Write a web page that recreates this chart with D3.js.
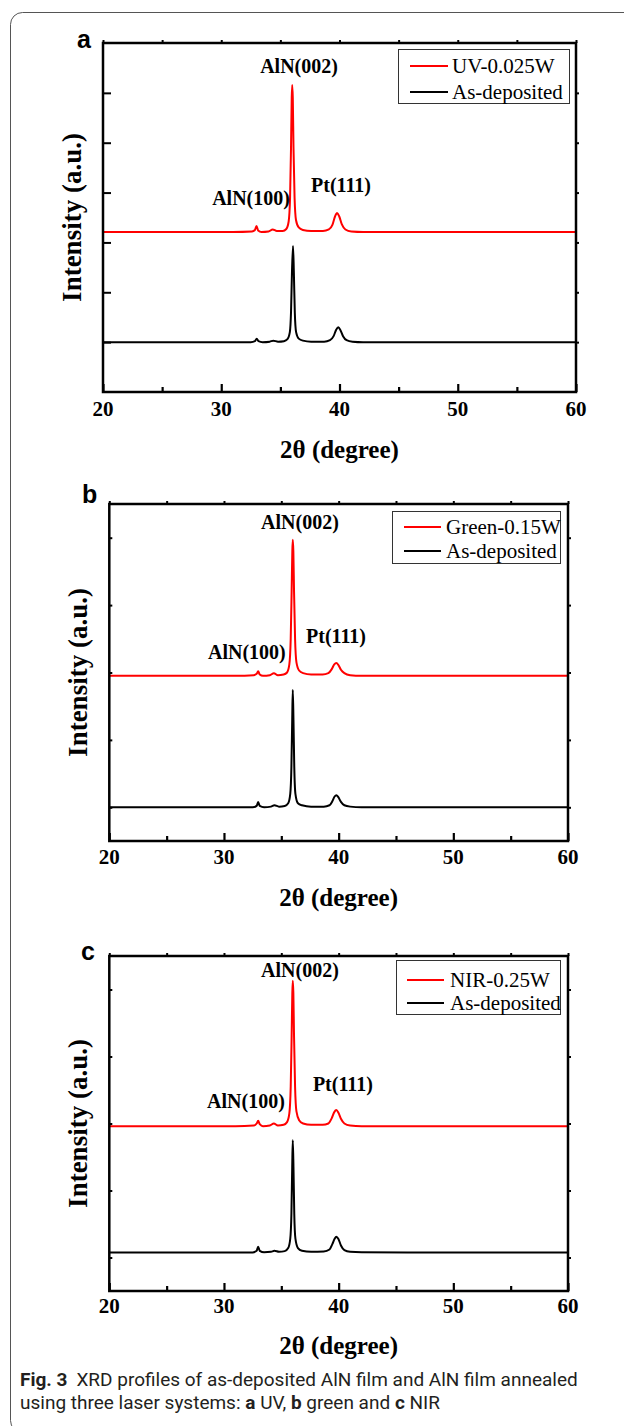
<!DOCTYPE html>
<html><head><meta charset="utf-8">
<script src="https://cdn.jsdelivr.net/npm/d3@7"></script>
<style>body{margin:0;background:#fff}svg{display:block}</style>
</head><body>
<script>
// ---------- data ----------
const xTickValues = [20, 30, 40, 50, 60];
const xMinorValues = [25, 35, 45, 55];
const yTicksA = [1, 2, 3, 4, 5, 6];
const yTicksBC = [0.5, 1.5, 2.5, 3.5, 4.5];
const legendRed = ["UV-0.025W", "Green-0.15W", "NIR-0.25W"];
const legendBlack = "As-deposited";
const peakLabels = ["AlN(002)", "AlN(100)", "Pt(111)"];
const xTitle = "2\u03B8 (degree)";
const yTitle = "Intensity (a.u.)";

// panel a: UV 0.025 W vs as-deposited  [2theta, intensity]
const uvRed = [[20,3.21],[24,3.21],[28,3.21],[31,3.21],[32.6,3.22],[32.85,3.25],[32.98,3.33],[33.12,3.24],[33.4,3.21],[34.0,3.22],[34.35,3.26],[34.7,3.23],[35.2,3.23],[35.5,3.27],[35.7,3.42],[35.82,3.9],[35.9,4.9],[35.96,5.9],[36.0,6.16],[36.05,5.9],[36.11,4.9],[36.2,3.9],[36.32,3.45],[36.55,3.3],[36.9,3.25],[37.6,3.23],[38.6,3.23],[39.1,3.26],[39.4,3.35],[39.62,3.52],[39.8,3.59],[39.98,3.52],[40.2,3.36],[40.5,3.26],[41.0,3.22],[42,3.21],[46,3.21],[50,3.21],[55,3.21],[60,3.21]];
const uvBlack = [[20,1.0],[25,1.0],[30,1.0],[32.5,1.0],[32.85,1.02],[33.0,1.07],[33.15,1.02],[33.5,1.0],[34.1,1.01],[34.4,1.03],[34.8,1.01],[35.3,1.02],[35.6,1.06],[35.8,1.2],[35.9,1.6],[35.98,2.4],[36.07,2.93],[36.14,2.4],[36.22,1.6],[36.33,1.2],[36.55,1.07],[36.9,1.03],[37.6,1.01],[38.7,1.01],[39.2,1.04],[39.5,1.12],[39.72,1.25],[39.9,1.30],[40.08,1.24],[40.3,1.12],[40.6,1.04],[41.1,1.01],[42,1.0],[46,1.0],[50,1.0],[55,1.0],[60,1.0]];

// panel b: Green 0.15 W vs as-deposited
const greenRed = [[20,2.45],[24,2.45],[28,2.45],[31,2.45],[32.6,2.46],[32.85,2.48],[32.98,2.52],[33.12,2.47],[33.4,2.45],[34.0,2.46],[34.35,2.49],[34.7,2.46],[35.2,2.47],[35.5,2.5],[35.7,2.62],[35.82,3.0],[35.9,3.7],[35.96,4.3],[36.0,4.47],[36.05,4.3],[36.11,3.7],[36.2,3.0],[36.32,2.65],[36.55,2.53],[36.9,2.49],[37.6,2.47],[38.6,2.47],[39.1,2.49],[39.4,2.55],[39.62,2.62],[39.8,2.64],[39.98,2.61],[40.2,2.54],[40.5,2.49],[41.0,2.46],[42,2.45],[46,2.45],[50,2.45],[55,2.45],[60,2.45]];
const greenBlack = [[20,0.5],[25,0.5],[30,0.5],[32.5,0.5],[32.85,0.52],[32.98,0.58],[33.12,0.52],[33.5,0.5],[34.1,0.51],[34.4,0.53],[34.8,0.51],[35.3,0.52],[35.6,0.56],[35.78,0.7],[35.88,1.1],[35.95,1.8],[36.0,2.24],[36.06,1.8],[36.13,1.1],[36.23,0.7],[36.45,0.56],[36.8,0.53],[37.6,0.51],[38.7,0.51],[39.2,0.53],[39.45,0.59],[39.65,0.66],[39.8,0.68],[39.97,0.65],[40.2,0.58],[40.5,0.53],[41,0.51],[42,0.5],[46,0.5],[50,0.5],[55,0.5],[60,0.5]];

// panel c: NIR 0.25 W vs as-deposited
const nirRed = [[20,2.46],[24,2.46],[28,2.46],[31,2.46],[32.6,2.47],[32.85,2.5],[32.98,2.54],[33.12,2.49],[33.4,2.46],[34.0,2.47],[34.35,2.5],[34.7,2.47],[35.2,2.48],[35.5,2.52],[35.7,2.65],[35.82,3.05],[35.9,3.8],[35.96,4.45],[36.0,4.63],[36.05,4.45],[36.11,3.8],[36.2,3.05],[36.32,2.68],[36.55,2.55],[36.9,2.5],[37.6,2.48],[38.6,2.48],[39.1,2.5],[39.4,2.58],[39.62,2.67],[39.8,2.70],[39.98,2.66],[40.2,2.57],[40.5,2.5],[41.0,2.47],[42,2.46],[46,2.46],[50,2.46],[55,2.46],[60,2.46]];
const nirBlack = [[20,0.575],[25,0.575],[30,0.575],[32.5,0.575],[32.85,0.6],[32.98,0.66],[33.12,0.6],[33.5,0.578],[34.1,0.585],[34.4,0.6],[34.8,0.585],[35.3,0.595],[35.6,0.64],[35.78,0.78],[35.88,1.15],[35.95,1.85],[36.0,2.25],[36.06,1.85],[36.13,1.15],[36.23,0.78],[36.45,0.64],[36.8,0.6],[37.6,0.585],[38.7,0.59],[39.2,0.62],[39.45,0.7],[39.65,0.78],[39.8,0.81],[39.97,0.78],[40.2,0.68],[40.5,0.61],[41,0.585],[42,0.578],[46,0.575],[50,0.575],[55,0.575],[60,0.575]];

// peak label anchor positions [2theta, intensity]
const peakPosA = [[36.58,6.54],[32.52,3.89],[40.13,4.15]];
const peakPosB = [[36.63,4.73],[32.0,2.80],[39.77,3.04]];
const peakPosC = [[36.63,4.79],[31.92,2.84],[40.37,3.09]];

// ---------- layout ----------
const W = 624, H = 1426;
const SERIF = "'Liberation Serif','Times New Roman',serif";
const SANS = "'Liberation Sans',Arial,sans-serif";

const panels = [
  {id:"a", left:103, right:576, top:43, bottom:392, yDomain:[0,7], yTicks:yTicksA, leftTick:8,
   legend:{x:398,y:49,w:171,h:54,r1:66,r2:92,lx1:410,lx2:448,tx:452},
   idPos:[77,48], tickLabelY:409, titleY:449, yTitleX:72,
   red:uvRed, black:uvBlack, redName:legendRed[0], peaks:peakPosA},
  {id:"b", left:109.3, right:568, top:504, bottom:841, yDomain:[0,5], yTicks:yTicksBC, leftTick:3,
   legend:{x:392,y:511,w:168,h:52,r1:527,r2:551,lx1:404,lx2:441,tx:446},
   idPos:[82,503], tickLabelY:857, titleY:897, yTitleX:78,
   red:greenRed, black:greenBlack, redName:legendRed[1], peaks:peakPosB},
  {id:"c", left:109.3, right:568, top:956, bottom:1291, yDomain:[0,5], yTicks:yTicksBC, leftTick:3,
   legend:{x:396,y:960,w:164,h:54,r1:980,r2:1003,lx1:407,lx2:444,tx:450},
   idPos:[81,960], tickLabelY:1306, titleY:1345, yTitleX:78,
   red:nirRed, black:nirBlack, redName:legendRed[2], peaks:peakPosC}
];

const svg = d3.select("body").append("svg").attr("width", W).attr("height", H);

// outer rounded frame
svg.append("rect").attr("x",10.5).attr("y",12.5).attr("width",700).attr("height",1420)
  .attr("rx",12).attr("ry",12).attr("fill","none").attr("stroke","#555").attr("stroke-width",1);

panels.forEach(p => {
  const x = d3.scaleLinear().domain([20,60]).range([p.left, p.right]);
  const y = d3.scaleLinear().domain(p.yDomain).range([p.bottom, p.top]);
  const g = svg.append("g");

  const bottomMajor = d3.axisBottom(x).tickValues(xTickValues).tickSizeInner(-8).tickSizeOuter(0).tickFormat("");
  const bottomMinor = d3.axisBottom(x).tickValues(xMinorValues).tickSizeInner(-5).tickSizeOuter(0).tickFormat("");
  [bottomMajor, bottomMinor].forEach(ax => {
    const a = g.append("g").attr("transform",`translate(0,${p.bottom})`).call(ax);
    a.select(".domain").remove();
    a.selectAll("line").attr("stroke","#000").attr("stroke-width",2.2);
  });
  const topAx = g.append("g").attr("transform",`translate(0,${p.top})`)
    .call(d3.axisTop(x).tickValues(xTickValues.concat(xMinorValues)).tickSizeInner(3).tickSizeOuter(0).tickFormat(""));
  topAx.select(".domain").remove();
  topAx.selectAll("line").attr("stroke","#000").attr("stroke-width",2);
  const leftAx = g.append("g").attr("transform",`translate(${p.left},0)`)
    .call(d3.axisLeft(y).tickValues(p.yTicks).tickSizeInner(-p.leftTick).tickSizeOuter(0).tickFormat(""));
  leftAx.select(".domain").remove();
  leftAx.selectAll("line").attr("stroke","#000").attr("stroke-width",2);
  const rightAx = g.append("g").attr("transform",`translate(${p.right},0)`)
    .call(d3.axisRight(y).tickValues(p.yTicks).tickSizeInner(3).tickSizeOuter(0).tickFormat(""));
  rightAx.select(".domain").remove();
  rightAx.selectAll("line").attr("stroke","#000").attr("stroke-width",2);

  g.selectAll(".xl").data(xTickValues).enter().append("text")
    .attr("x", d => x(d)).attr("y", p.tickLabelY).attr("dy","0.35em")
    .attr("text-anchor","middle").attr("font-family",SERIF).attr("font-weight","bold")
    .attr("font-size",21).text(d => d);

  const line = d3.line().x(d => x(d[0])).y(d => y(d[1])).curve(d3.curveMonotoneX);
  g.append("path").datum(p.black).attr("d", line).attr("fill","none").attr("stroke","#000").attr("stroke-width",2);
  g.append("path").datum(p.red).attr("d", line).attr("fill","none").attr("stroke","#ff0000").attr("stroke-width",2);

  g.append("rect").attr("x",p.left).attr("y",p.top).attr("width",p.right-p.left).attr("height",p.bottom-p.top)
    .attr("fill","none").attr("stroke","#000").attr("stroke-width",2.5);

  g.selectAll(".pk").data(p.peaks).enter().append("text")
    .attr("x", d => x(d[0])).attr("y", d => y(d[1])).attr("dy","0.35em")
    .attr("text-anchor","middle").attr("font-family",SERIF).attr("font-weight","bold")
    .attr("font-size",20).text((d,i) => peakLabels[i]);

  const L = p.legend;
  g.append("rect").attr("x",L.x+0.5).attr("y",L.y+0.5).attr("width",L.w).attr("height",L.h)
    .attr("fill","#fff").attr("stroke","#333").attr("stroke-width",1);
  [[p.redName,"#ff0000",L.r1],[legendBlack,"#000",L.r2]].forEach(([name,col,ry]) => {
    g.append("line").attr("x1",L.lx1).attr("x2",L.lx2).attr("y1",ry).attr("y2",ry)
      .attr("stroke",col).attr("stroke-width",2);
    g.append("text").attr("x",L.tx).attr("y",ry).attr("dy","0.35em")
      .attr("font-family",SERIF).attr("font-size",21).text(name);
  });

  g.append("text").attr("x",(p.left+p.right)/2).attr("y",p.titleY).attr("dy","0.35em")
    .attr("text-anchor","middle").attr("font-family",SERIF).attr("font-weight","bold")
    .attr("font-size",25).text(xTitle);
  g.append("text").attr("transform",`translate(${p.yTitleX},${(p.top+p.bottom)/2}) rotate(-90)`)
    .attr("dy","0.35em").attr("text-anchor","middle").attr("font-family",SERIF).attr("font-weight","bold")
    .attr("font-size",27).text(yTitle);

  g.append("text").attr("x",p.idPos[0]).attr("y",p.idPos[1]).attr("font-family",SANS)
    .attr("font-weight","bold").attr("font-size",25).text(p.id);
});

// caption
const cap = svg.append("g").attr("font-family","Roboto,'Liberation Sans',sans-serif").attr("font-size",19).attr("fill","#231f20");
const t1 = cap.append("text").attr("x",20).attr("y",1386);
t1.append("tspan").attr("font-weight","bold").text("Fig. 3");
t1.append("tspan").attr("dx",9).text("XRD profiles of as-deposited AlN film and AlN film annealed");
const t2 = cap.append("text").attr("x",20).attr("y",1409);
[["using three laser systems: ",false],["a",true],[" UV, ",false],["b",true],[" green and ",false],["c",true],[" NIR",false]]
  .forEach(([s,b]) => t2.append("tspan").attr("font-weight", b ? "bold" : null).text(s));
</script>
</body></html>
